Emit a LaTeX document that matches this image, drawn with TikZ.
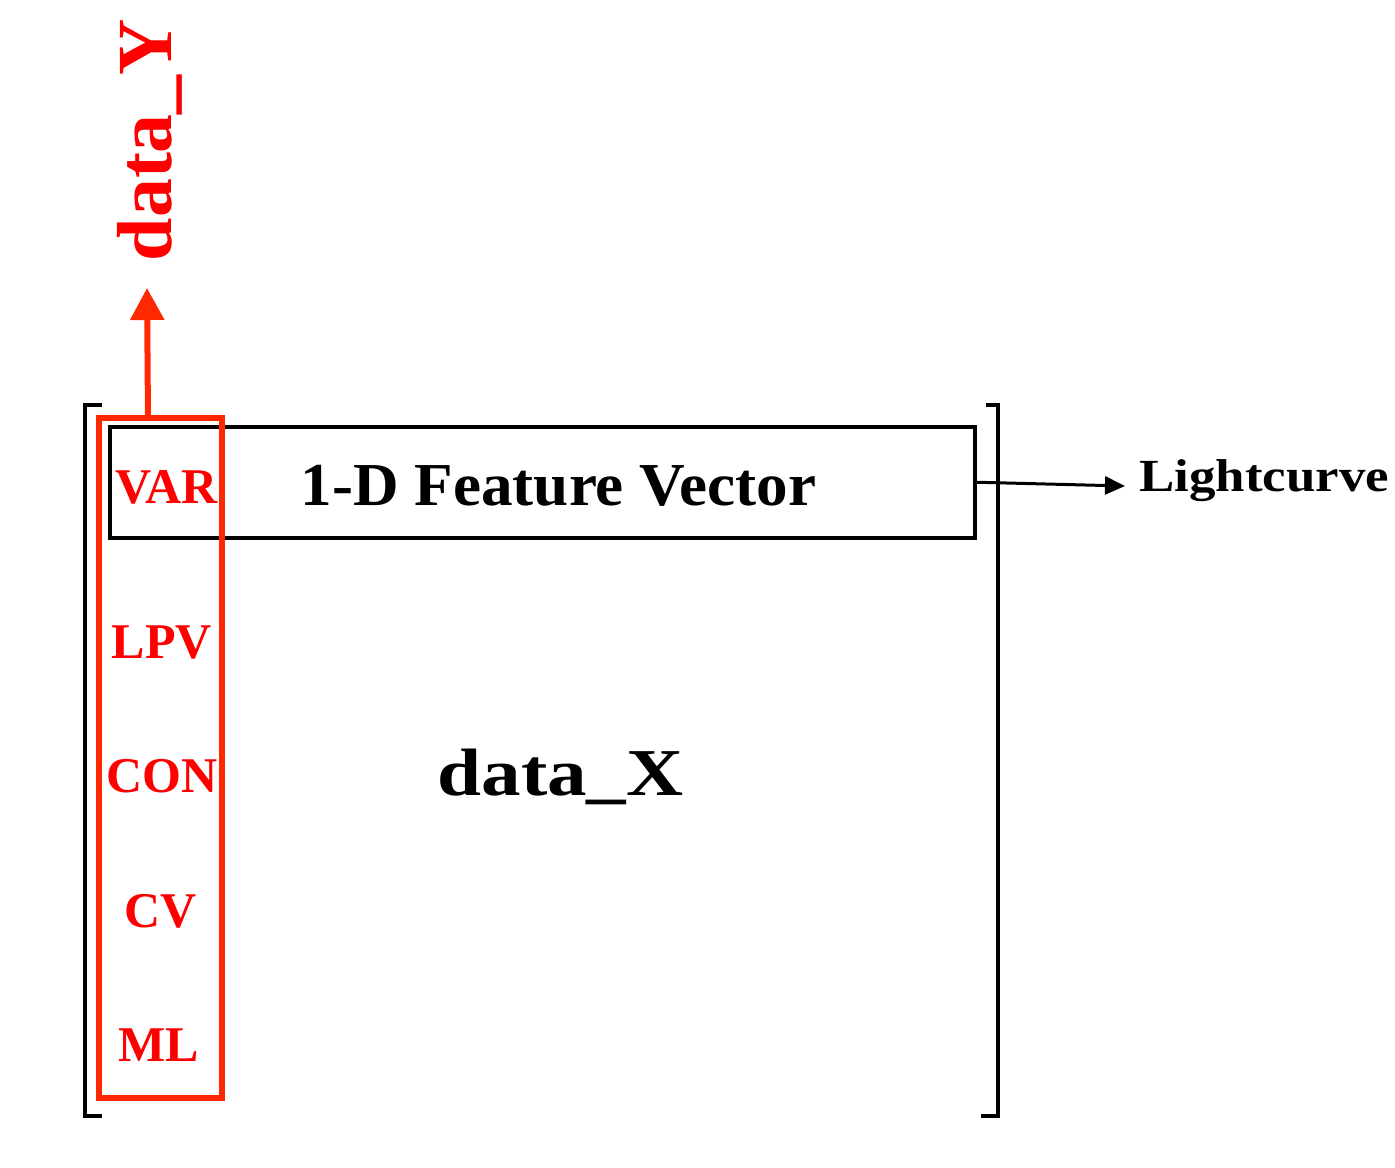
\documentclass[tikz,border=0pt]{standalone}
\usepackage{fontspec}
\setmainfont{Liberation Serif}
\usetikzlibrary{arrows.meta}
\definecolor{boxred}{RGB}{255,40,0}
\definecolor{textred}{RGB}{255,0,0}
\begin{document}
\begin{tikzpicture}[x=0.5pt,y=0.5pt,
  redlabel/.style={text=textred,font=\bfseries\fontsize{25pt}{25pt}\selectfont,anchor=base,inner sep=0pt},
  bracketline/.style={line width=2.25pt,line join=miter,line cap=rect},
  redarrow/.style={draw=boxred,line width=3pt,-{Triangle[length=16pt,width=16.5pt]}},
  blackarrow/.style={draw=black,line width=1.5pt,-{Triangle[length=10pt,width=9pt]}}]
\useasboundingbox (0,0) rectangle (1395,-1167);
% brackets
\draw[bracketline] (100,-405) -- (85,-405) -- (85,-1116) -- (100,-1116);
\draw[bracketline] (988,-405) -- (998,-405) -- (998,-1116) -- (983,-1116);
% feature vector box
\node[draw=black,line width=2pt,minimum width=432.5pt,minimum height=55.25pt,inner sep=0pt] (fvec) at (542.5,-482.25) {};
\node[anchor=base,inner sep=0pt,font=\bfseries\fontsize{30.5pt}{30.5pt}\selectfont] (fvtext) at (558.5,-505) {\scalebox{1.035}[1]{1-D Feature Vector}};
% red class box
\node[draw=boxred,line width=3pt,minimum width=61.5pt,minimum height=340pt,inner sep=0pt] (redbox) at (160.5,-758) {};
\node[redlabel] (var) at (166.5,-503) {VAR};
\node[redlabel] (lpv) at (161.7,-658) {LPV};
\node[redlabel] (con) at (162,-792) {CON};
\node[redlabel] (cv) at (161,-927) {CV};
\node[redlabel] (ml) at (159,-1061) {ML};
% data_X
\node[anchor=base,inner sep=0pt,font=\bfseries\fontsize{33.5pt}{33.5pt}\selectfont] (datax) at (560.5,-795) {\scalebox{1.18}[1]{data\_X}};
% data_Y
\coordinate (ystart) at (148,-418);
\coordinate (ytip) at (147,-288);
\draw[redarrow] (ystart) -- (ytip);
\node[rotate=90,anchor=base,inner sep=0pt,text=textred,font=\bfseries\fontsize{39pt}{39pt}\selectfont] (datay) at (171,-140) {data\_Y};
% lightcurve
\coordinate (lctip) at (1125,-486);
\draw[blackarrow] (fvec.east) -- (lctip);
\node[anchor=base west,inner sep=0pt,font=\bfseries\fontsize{23pt}{23pt}\selectfont] (lc) at (1139,-491) {\scalebox{1.15}[1]{Lightcurve}};
\end{tikzpicture}
\end{document}
